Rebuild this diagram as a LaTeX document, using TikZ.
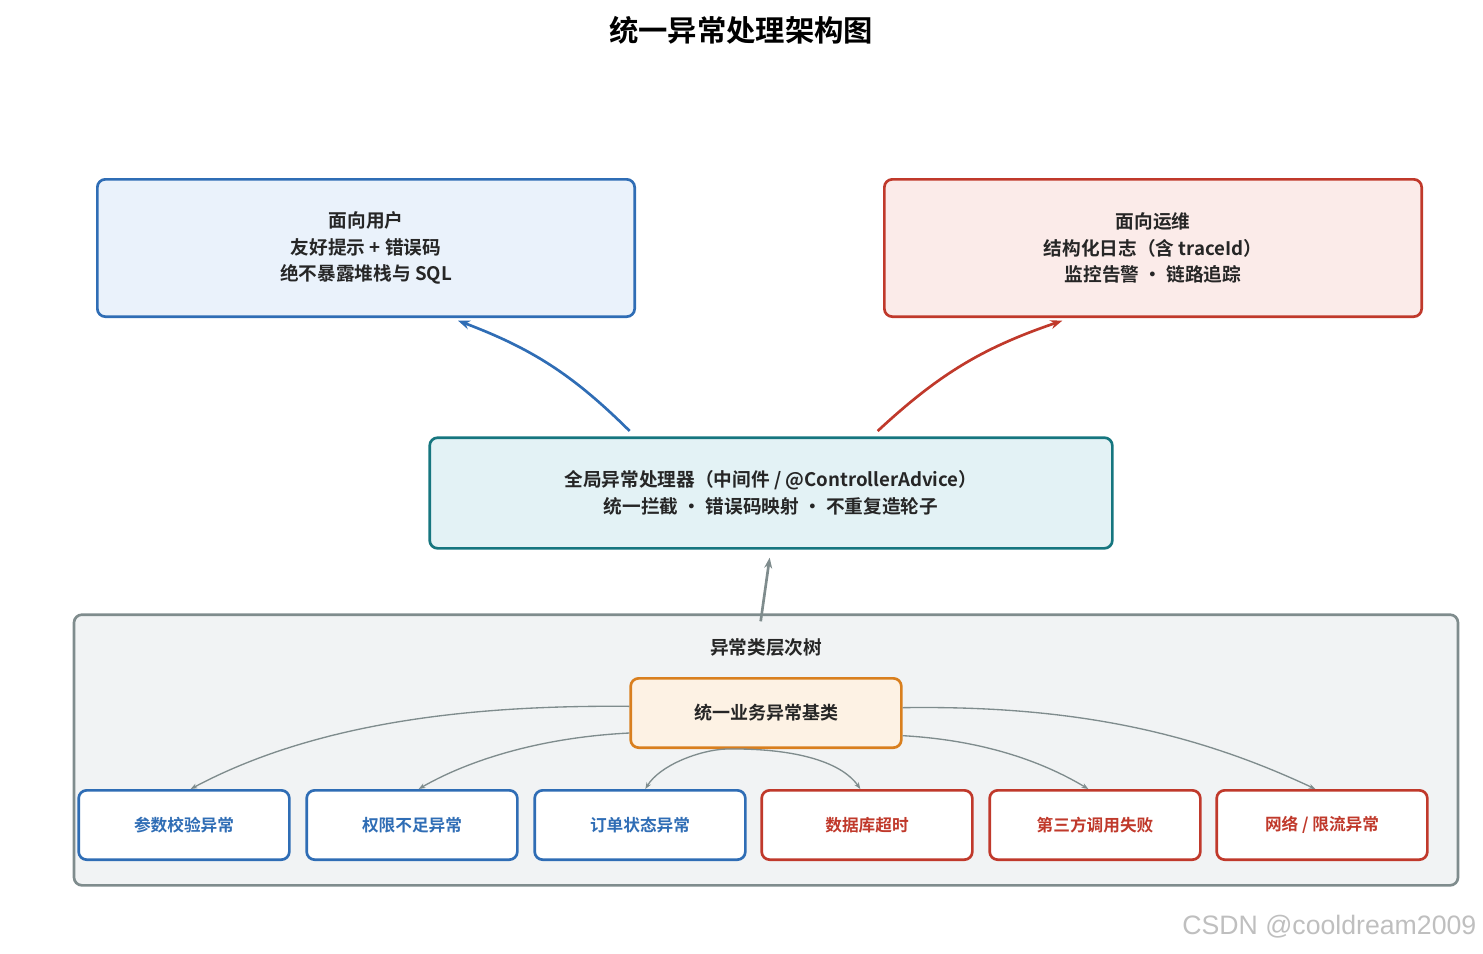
\documentclass[tikz,border=0pt]{standalone}
\usepackage{fontspec}
\setmainfont{Noto Sans CJK SC}[BoldFont={Noto Sans CJK SC Bold}]
\newfontfamily\wmfont{Liberation Sans}
\usetikzlibrary{arrows.meta}
\definecolor{ublue}{HTML}{2F6DB5}\definecolor{ubluef}{HTML}{EAF2FB}
\definecolor{ured}{HTML}{C0392B}\definecolor{uredf}{HTML}{FBEBE9}
\definecolor{uteal}{HTML}{16767F}\definecolor{utealf}{HTML}{E3F2F5}
\definecolor{ugray}{HTML}{7F8C8D}\definecolor{ugrayf}{HTML}{F1F3F4}
\definecolor{uorg}{HTML}{D97F1E}\definecolor{uorgf}{HTML}{FDF2E4}
\begin{document}
\begin{tikzpicture}[x=0.75pt,y=-0.75pt,
 box/.style={draw,line width=2pt,rounded corners=6pt,align=center,font=\bfseries\fontsize{14}{20}\selectfont,text=black!85},
 leafb/.style={box,draw=ublue,fill=white,text=ublue,minimum width=158pt,minimum height=52pt,font=\bfseries\fontsize{12.5}{15}\selectfont},
 leafr/.style={leafb,draw=ured,text=ured},
 sub/.style={-{Stealth[length=5pt]},draw=ugray,line width=1pt}]
\useasboundingbox (0,0) rectangle (1483,953);
\node[font=\bfseries\fontsize{22}{26}\selectfont] (title) at (741,30) {统一异常处理架构图};
\node[box,draw=ublue,fill=ubluef,minimum width=403pt,minimum height=103pt] (user) at (366,248) {面向用户\\友好提示 + 错误码\\绝不暴露堆栈与 SQL};
\node[box,draw=ured,fill=uredf,minimum width=403pt,minimum height=103pt] (ops) at (1153,248) {面向运维\\结构化日志（含 traceId）\\监控告警 · 链路追踪};
\node[box,draw=uteal,fill=utealf,minimum width=512pt,minimum height=83pt] (h) at (771,493) {全局异常处理器（中间件 / @ControllerAdvice）\\统一拦截 · 错误码映射 · 不重复造轮子};
\node[box,draw=ugray,fill=ugrayf,minimum width=1038pt,minimum height=203pt] (tree) at (766,750) {};
\node[font=\bfseries\fontsize{14}{16}\selectfont,text=black!85] (tt) at (766,647) {异常类层次树};
\node[box,draw=uorg,fill=uorgf,minimum width=203pt,minimum height=52pt,font=\bfseries\fontsize{13.5}{16}\selectfont] (base) at (766,713) {统一业务异常基类};
\node[leafb] (l1) at (184,825) {参数校验异常};
\node[leafb] (l2) at (412,825) {权限不足异常};
\node[leafb] (l3) at (640,825) {订单状态异常};
\node[leafr] (l4) at (867,825) {数据库超时};
\node[leafr] (l5) at (1095,825) {第三方调用失败};
\node[leafr] (l6) at (1322,825) {网络 / 限流异常};
\draw[-{Stealth[length=9pt]},ublue,line width=2pt] ([xshift=-106pt,yshift=4pt]h.north) to[bend right=12] ([xshift=69pt,yshift=-2pt]user.south);
\draw[-{Stealth[length=9pt]},ured,line width=2pt] ([xshift=80pt,yshift=4pt]h.north) to[bend left=12] ([xshift=-68pt,yshift=-2pt]ops.south);
\draw[-{Stealth[length=8pt]},ugray,line width=2pt] ([xshift=-4pt,yshift=-6pt]tree.north) -- ([xshift=-1pt,yshift=-6pt]h.south);
\draw[sub] ([yshift=5pt]base.west) .. controls (480,705) and (320,720) .. ([xshift=5pt]l1.north);
\draw[sub] ([yshift=-15pt]base.west) .. controls (530,738) and (460,765) .. ([xshift=5pt]l2.north);
\draw[sub] ([xshift=-30pt]base.south) .. controls (700,750) and (660,765) .. ([xshift=4pt]l3.north);
\draw[sub] ([xshift=-30pt]base.south) .. controls (790,748) and (840,760) .. ([xshift=-5pt]l4.north);
\draw[sub] ([yshift=-17pt]base.east) .. controls (980,740) and (1040,760) .. ([xshift=-5pt]l5.north);
\draw[sub] ([yshift=4pt]base.east) .. controls (1080,705) and (1200,735) .. ([xshift=-5pt]l6.north);
\node[font=\wmfont\fontsize{20}{22}\selectfont,text=black!25,anchor=east] (wm) at (1481,927) {CSDN @cooldream2009};
\end{tikzpicture}
\end{document}
